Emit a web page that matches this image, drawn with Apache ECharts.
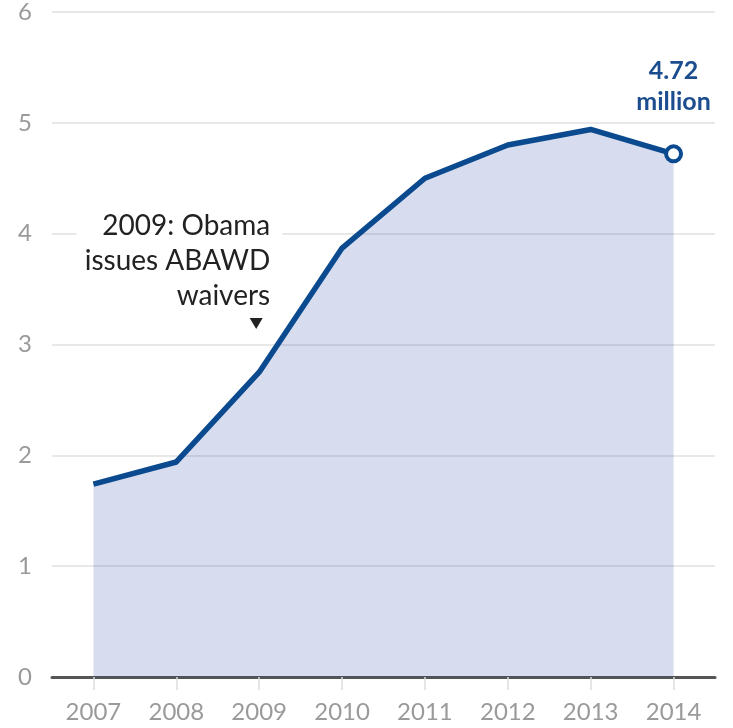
<!DOCTYPE html>
<html>
<head>
<meta charset="utf-8">
<script src="https://cdn.jsdelivr.net/npm/echarts@6/dist/echarts.min.js"></script>
<style>
html,body{margin:0;padding:0;background:#fff;}
#chart{width:733px;height:728px;}
</style>
</head>
<body>
<div id="chart"></div>
<script>
const years = ['2007','2008','2009','2010','2011','2012','2013','2014'];
const recipients = [1.74, 1.94, 2.75, 3.87, 4.50, 4.80, 4.94, 4.72];
const yTicks = {min: 0, max: 6, interval: 1};
const annotationYear = '2009';
const annotationLevel = 3.19;
const annotationText = ['2009: Obama', 'issues ABAWD', 'waivers'];
const endLabel = ['4.72', 'million'];

const lineColor = '#0b4a8e';
const seriesData = recipients.map((v, i) => {
  if (i === recipients.length - 1) {
    return {
      value: v,
      symbol: 'circle',
      symbolSize: 15,
      itemStyle: {color: '#fff', borderColor: lineColor, borderWidth: 4},
      label: {
        show: true,
        position: 'top',
        distance: 27,
        formatter: endLabel.join('\n'),
        color: '#1b4d8f',
        fontFamily: 'Lato',
        fontWeight: 'bold',
        fontSize: 25,
        lineHeight: 31,
        align: 'center'
      }
    };
  }
  return {value: v, symbol: 'none'};
});

const chart = echarts.init(document.getElementById('chart'));
chart.setOption({
  animation: false,
  backgroundColor: '#fff',
  grid: {left: 52, right: 18, top: 12, bottom: 51},
  xAxis: {
    type: 'category',
    data: years,
    boundaryGap: true,
    axisLine: {show: true, lineStyle: {color: '#555', width: 3}},
    axisTick: {show: true, alignWithLabel: true, length: 13, lineStyle: {color: '#ddd', width: 1.5}},
    axisLabel: {color: '#9a9a9a', fontFamily: 'Lato', fontSize: 24, margin: 23},
    splitLine: {show: false}
  },
  yAxis: {
    type: 'value',
    min: yTicks.min,
    max: yTicks.max,
    interval: yTicks.interval,
    axisLine: {show: false},
    axisTick: {show: false},
    axisLabel: {color: '#9a9a9a', fontFamily: 'Lato', fontSize: 24, margin: 20},
    splitLine: {lineStyle: {color: '#e0e0e0', width: 1.5}}
  },
  series: [{
    type: 'line',
    data: seriesData,
    showSymbol: true,
    symbol: 'none',
    lineStyle: {color: lineColor, width: 5.5, join: 'round'},
    itemStyle: {color: lineColor},
    areaStyle: {color: '#1f3f9e', opacity: 0.18},
    silent: true,
    markPoint: {
      silent: true,
      animation: false,
      data: [
        {
          coord: [annotationYear, annotationLevel],
          symbol: 'rect',
          symbolSize: 0,
          label: {
            show: true,
            position: 'inside',
            formatter: annotationText.join('\n'),
            align: 'right',
            verticalAlign: 'bottom',
            offset: [23, -10],
            color: '#222',
            fontFamily: 'Lato',
            fontSize: 28,
            lineHeight: 35,
            backgroundColor: '#fff',
            padding: [0, 12, 0, 8]
          }
        },
        {
          coord: [annotationYear, annotationLevel],
          symbol: 'triangle',
          symbolRotate: 180,
          symbolSize: [13, 11],
          symbolOffset: [-3, 0],
          itemStyle: {color: '#222'},
          label: {show: false}
        }
      ]
    }
  }]
});
</script>
</body>
</html>
